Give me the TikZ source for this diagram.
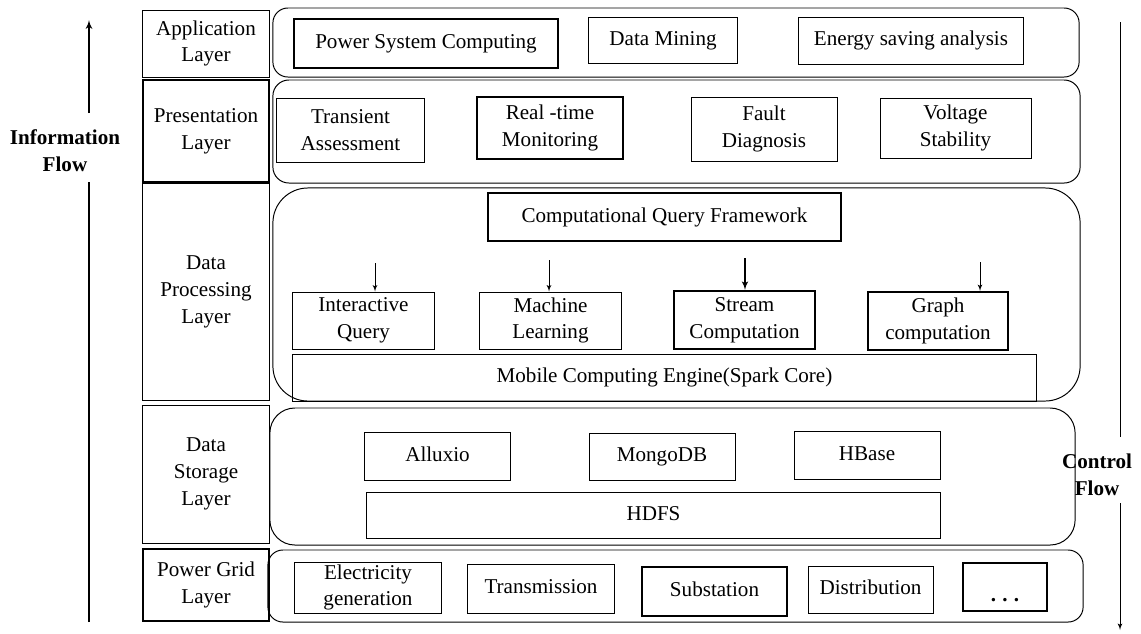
\documentclass[tikz,border=0pt]{standalone}
\usepackage{fontspec}
\setmainfont{Liberation Serif}
\usetikzlibrary{arrows}
\usetikzlibrary{positioning}

\begin{document}
\begin{tikzpicture}[x=0.025cm,y=-0.025cm,every node/.style={font=\fontsize{15}{19}\selectfont}]
        \tikzset{layer/.style = {draw,line width=0.7pt,align=center,inner sep=0pt,minimum width=3.15cm}}
        \tikzset{group/.style = {draw,line width=0.7pt,rounded corners=0.375cm,inner sep=0pt}}
        \tikzset{item/.style = {draw,line width=0.7pt,align=center,inner sep=0pt,minimum width=3.65cm,minimum height=1.2cm}}
        \tikzset{oneline/.style = {text height=10.5pt,text depth=3.3pt}}
        \tikzset{heavy/.style = {line width=1.4pt}}
        \tikzset{call_edge/.style = {->,> = latex',line width=0.6pt}}
        \tikzset{flow_edge/.style = {->,> = latex',line width=1.2pt}}
        \tikzset{side/.style = {font=\fontsize{15}{19}\selectfont\bfseries,align=center}}

        \useasboundingbox (0,0) rectangle (1141,633);

        \node[layer,minimum height=1.675cm] (appL) at (206,43.5) {Application\\Layer};
        \node[layer,heavy,minimum height=2.55cm] (presL) at (206,131) {Presentation\\Layer};
        \node[layer,minimum height=5.4cm] (procL) at (206,292) {Data\\Processing\\Layer};
        \node[layer,minimum height=3.45cm] (storL) at (206,474) {Data\\Storage\\Layer};
        \node[layer,heavy,minimum height=1.8cm] (gridL) at (206,585) {Power Grid\\Layer};

        \node[group,minimum width=20.15cm,minimum height=1.725cm] (appG) at (676,42.5) {};
        \node[group,minimum width=20.175cm,minimum height=2.575cm,rounded corners=0.4cm] (presG) at (676.5,131.5) {};
        \node[group,minimum width=20.175cm,minimum height=5.325cm,rounded corners=0.875cm] (procG) at (676.5,294.5) {};
        \node[group,minimum width=20.125cm,minimum height=3.425cm,rounded corners=0.625cm] (storG) at (672.5,476.5) {};
        \node[group,minimum width=20.375cm,minimum height=1.8cm] (gridG) at (675.5,586) {};

        \node[item,oneline,heavy,minimum width=6.6cm,minimum height=1.225cm] (psc) at (426,43.5) {Power System Computing};
        \node[item,oneline,minimum width=3.7cm,minimum height=1.15cm] (dm) at (663,40) {Data Mining};
        \node[item,oneline,minimum width=5.6cm,minimum height=1.175cm] (esa) at (911,40.5) {Energy saving analysis};

        \node[item,minimum width=3.675cm,minimum height=1.6cm] (ta) at (350.5,130) {Transient\\Assessment};
        \node[item,heavy,minimum height=1.55cm] (rtm) at (550,128) {Real -time\\Monitoring};
        \node[item,minimum height=1.6cm] (fd) at (764,129) {Fault\\Diagnosis};
        \node[item,minimum width=3.775cm,minimum height=1.5cm] (vs) at (955.5,128) {Voltage\\Stability};

        \node[item,oneline,heavy,minimum width=8.825cm] (cqf) at (664.5,217) {Computational Query Framework};
        \node[item,minimum width=3.525cm,minimum height=1.425cm] (iq) at (363.5,320.5) {Interactive\\Query};
        \node[item,minimum width=3.525cm,minimum height=1.425cm] (ml) at (550.5,320.5) {Machine\\Learning};
        \node[item,heavy,minimum width=3.525cm,minimum height=1.45cm] (sc) at (744.5,320) {Stream\\Computation};
        \node[item,heavy,minimum width=3.5cm,minimum height=1.45cm] (gc) at (938,321) {Graph\\computation};
        \node[item,oneline,minimum width=18.575cm,minimum height=1.175cm] (mce) at (664.5,377.5) {Mobile Computing Engine(Spark Core)};
        \coordinate (iqin) at (375,263); \draw[call_edge] (iqin) -- (iqin |- iq.north);
        \coordinate (mlin) at (549,260); \draw[call_edge] (mlin) -- (mlin |- ml.north);
        \coordinate (scin) at (745,258); \draw[call_edge,line width=1.1pt] (scin) -- (scin |- sc.north);
        \coordinate (gcin) at (980,262); \draw[call_edge] (gcin) -- (gcin |- gc.north);

        \node[item,oneline] (alx) at (437.5,456) {Alluxio};
        \node[item,oneline,minimum height=1.175cm] (mdb) at (662,456.5) {MongoDB};
        \node[item,oneline] (hb) at (867,455) {HBase};
        \node[item,oneline,minimum width=14.325cm,minimum height=1.15cm] (hdfs) at (653.5,515) {HDFS};

        \node[item,minimum height=1.275cm] (eg) at (368,587.5) {Electricity\\generation};
        \node[item,oneline,minimum height=1.225cm] (tr) at (541,588.5) {Transmission};
        \node[item,oneline,heavy,minimum width=3.625cm,minimum height=1.225cm] (ss) at (714.5,591.5) {Substation};
        \node[item,oneline,minimum width=3.125cm,minimum height=1.175cm] (di) at (870.5,589.5) {Distribution};
        \node[item,heavy,minimum width=2.1cm,text height=0.7cm,text depth=0pt] (more) at (1005,587) {\textbf{.\hspace{0.3em}.\hspace{0.3em}.}};

        \node[side] (info) at (65,151) {Information\\Flow};
        \coordinate (infobot) at (89,622); \coordinate (infolo) at (89,182); \coordinate (infohi) at (89,113); \coordinate (infotop) at (89,20);
        \draw[line width=1.2pt] (infobot) -- (infolo); \draw[flow_edge] (infohi) -- (infotop);

        \node[side] (ctrl) at (1097,475) {Control\\Flow};
        \coordinate (ctrltop) at (1120,22); \coordinate (ctrlhi) at (1120,437); \coordinate (ctrllo) at (1120,503); \coordinate (ctrlbot) at (1120,630);
        \draw[line width=0.7pt] (ctrltop) -- (ctrlhi); \draw[call_edge] (ctrllo) -- (ctrlbot);
    \end{tikzpicture}
\end{document}
